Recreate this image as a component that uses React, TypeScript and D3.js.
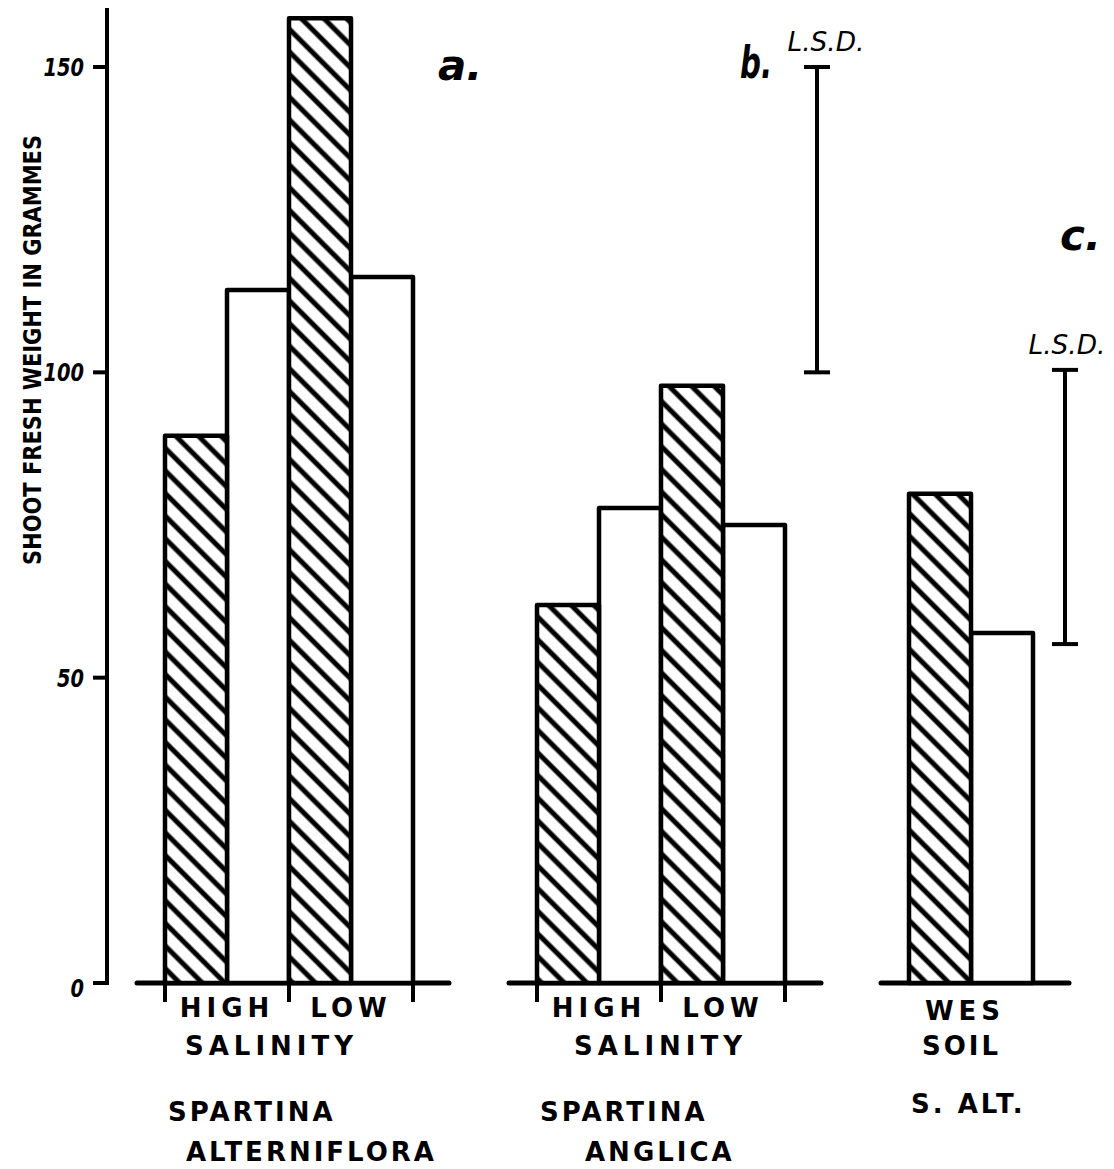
import * as d3 from "d3";

// data (shoot fresh weight, g)
const groupKeys = ["a.", "b.", "c."];
const subgroupLabels = [["HIGH", "LOW"], ["HIGH", "LOW"], ["WES"]];
const factorLabels = ["SALINITY", "SALINITY", "SOIL"];
const speciesLabels = [["SPARTINA", "ALTERNIFLORA"], ["SPARTINA", "ANGLICA"], ["S. ALT."]];
const hatchedValues = [[89.6, 158.0], [61.9, 97.8], [80.1]];
const openValues = [[113.5, 115.6], [77.8, 75.0], [57.3]];
const lsdRanges: ([number, number] | null)[] = [null, [100, 150], [55.5, 100.4]];
const yTicks = [0, 50, 100, 150];

// hand-lettering offsets (layout only)
const factorIndent = [20, 37, 13];
const speciesIndent = [[3, 21], [3, 48], [2]];
const lsdLabelShift = [0, 9, 2];

const W = 1114;
const H = 1169;
const font = "'DejaVu Sans', sans-serif";

export default function App() {
  const y = d3.scaleLinear().domain([0, 150]).range([983, 67]);
  // each group takes 6 slots: 2 per subgroup (hatched, open), rest is gap
  const x = d3.scaleBand<number>().domain(d3.range(14)).range([165, 1033]).padding(0);
  const bw = x.bandwidth();
  const slot = (g: number, k: number, s: number) => g * 6 + k * 2 + s;

  const axisX = 107;
  const base = y(0);

  return (
    <svg width={W} height={H} style={{ position: "absolute", left: 0, top: 0, background: "#fff" }}>
      <defs>
        <pattern id="hatch" width={16} height={16} patternUnits="userSpaceOnUse" patternTransform="rotate(-45)">
          <rect width={16} height={16} fill="#fff" />
          <line x1={8} y1={-2} x2={8} y2={18} stroke="#000" strokeWidth={5} />
        </pattern>
      </defs>

      {/* y axis */}
      <line x1={axisX} y1={8} x2={axisX} y2={base + 2} stroke="#000" strokeWidth={4} />
      {yTicks.map(t => {
        const label = String(t);
        return (
          <g key={t}>
            <line x1={93} x2={axisX} y1={y(t)} y2={y(t)} stroke="#000" strokeWidth={4} />
            <text
              x={84}
              y={t === 0 ? y(t) + 14 : y(t) + 9}
              textAnchor="end"
              fontFamily={font}
              fontStyle="italic"
              fontWeight="bold"
              fontSize={25}
              textLength={label.length * 13.5}
              lengthAdjust="spacingAndGlyphs"
            >
              {label}
            </text>
          </g>
        );
      })}
      <text
        transform="translate(41,350) rotate(-90)"
        textAnchor="middle"
        fontFamily={font}
        fontWeight="bold"
        fontSize={25}
        textLength={430}
        lengthAdjust="spacingAndGlyphs"
      >
        SHOOT FRESH WEIGHT IN GRAMMES
      </text>

      {groupKeys.map((gk, g) => {
        const n = subgroupLabels[g].length;
        const gx0 = x(slot(g, 0, 0))!;
        const gx1 = x(slot(g, n - 1, 1))! + bw;
        const lsd = lsdRanges[g];
        return (
          <g key={gk}>
            {/* baseline */}
            <line x1={gx0 - 28} x2={gx1 + 36} y1={base} y2={base} stroke="#000" strokeWidth={5} strokeLinecap="round" />
            {n > 1 &&
              d3.range(n + 1).map(k => {
                const tx = k < n ? x(slot(g, k, 0))! : gx1;
                return <line key={k} x1={tx} x2={tx} y1={base} y2={base + 19} stroke="#000" strokeWidth={4} />;
              })}

            {subgroupLabels[g].map((lab, k) => {
              const hx = x(slot(g, k, 0))!;
              const ox = x(slot(g, k, 1))!;
              return (
                <g key={lab + k}>
                  <rect x={ox} y={y(openValues[g][k])} width={bw} height={base - y(openValues[g][k])}
                    fill="#fff" stroke="#000" strokeWidth={4.5} strokeLinejoin="round" />
                  <rect x={hx} y={y(hatchedValues[g][k])} width={bw} height={base - y(hatchedValues[g][k])}
                    fill="url(#hatch)" stroke="#000" strokeWidth={4.5} strokeLinejoin="round" />
                  <text x={hx + bw - (g === 2 ? 6 : 0)} y={g === 2 ? 1020 : 1017} textAnchor="middle" fontFamily={font}
                    fontWeight="bold" fontSize={26} letterSpacing={5}>
                    {lab}
                  </text>
                </g>
              );
            })}

            <text x={gx0 + factorIndent[g]} y={1055} fontFamily={font} fontWeight="bold" fontSize={26}
              letterSpacing={g === 2 ? 3 : 5}>
              {factorLabels[g]}
            </text>
            {speciesLabels[g].map((s, i) => (
              <text key={s} x={gx0 + speciesIndent[g][i]} y={i === 0 ? (g === 2 ? 1113 : 1121) : 1161}
                fontFamily={font} fontWeight="bold" fontSize={26} letterSpacing={3}>
                {s}
              </text>
            ))}

            {lsd && (
              <g>
                <line x1={gx1 + 32} x2={gx1 + 32} y1={y(lsd[1])} y2={y(lsd[0])} stroke="#000" strokeWidth={4} />
                <line x1={gx1 + 19} x2={gx1 + 45} y1={y(lsd[1])} y2={y(lsd[1])} stroke="#000" strokeWidth={4} />
                <line x1={gx1 + 19} x2={gx1 + 45} y1={y(lsd[0])} y2={y(lsd[0])} stroke="#000" strokeWidth={4} />
                <text x={gx1 + 32 + lsdLabelShift[g]} y={y(lsd[1]) - 16} textAnchor="middle" fontFamily={font}
                  fontStyle="italic" fontSize={26} textLength={77} lengthAdjust="spacingAndGlyphs">
                  L.S.D.
                </text>
              </g>
            )}
          </g>
        );
      })}

      {/* panel letters */}
      <text x={438} y={80} fontFamily={font} fontStyle="italic" fontWeight="bold" fontSize={42}>a.</text>
      <text x={740} y={78} fontFamily={font} fontStyle="italic" fontWeight="bold" fontSize={44}
        textLength={32} lengthAdjust="spacingAndGlyphs">b.</text>
      <text x={1060} y={250} fontFamily={font} fontStyle="italic" fontWeight="bold" fontSize={42}>c.</text>
    </svg>
  );
}
